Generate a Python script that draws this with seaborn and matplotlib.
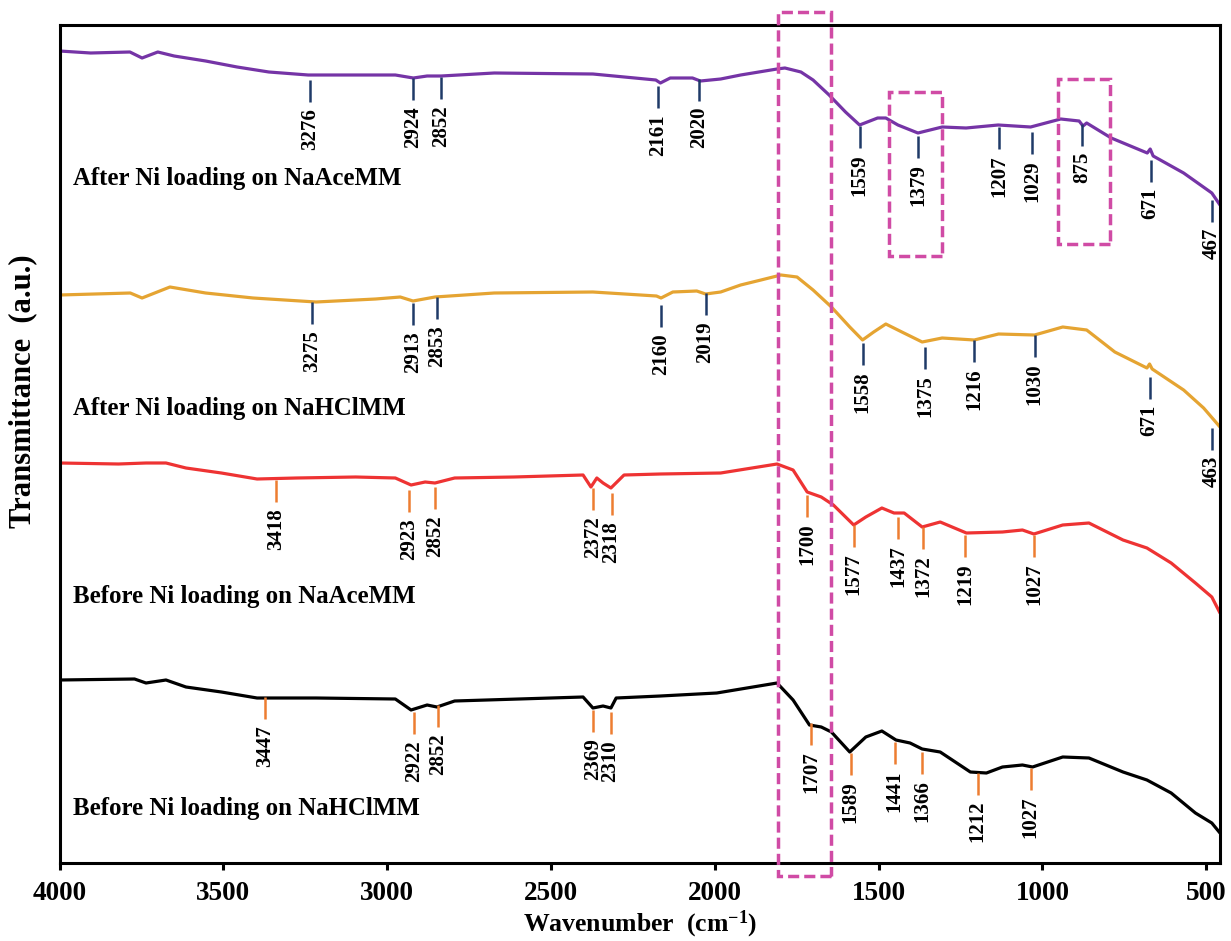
"""
FTIR spectra of NaAceMM / NaHClMM before and after Ni loading.
Stacked transmittance traces with hand-placed peak markers.
"""

import matplotlib
matplotlib.use("Agg")
import matplotlib.pyplot as plt
from matplotlib.patches import Rectangle
import seaborn as sns
import pandas as pd

# Spectra (wavenumber in cm-1, transmittance in a.u., already stacked)
ace_after_wn = [4000, 3905, 3785, 3748, 3700, 3650, 3554, 3458, 3361, 3241, 2975, 2920, 2878, 2835,
                2673, 2372, 2180, 2166, 2136, 2068, 2044, 1982, 1921, 1810, 1786, 1737, 1700, 1651,
                1601, 1558, 1503, 1478, 1441, 1380, 1306, 1233, 1135, 1036, 944, 888, 876, 865, 790,
                680, 671, 662, 569, 483, 458]
ace_after_t = [812, 810, 811, 805, 811, 807, 802, 796, 791, 788, 788, 785, 787, 787,
               790, 789, 783, 780, 785, 785, 782, 784, 788, 794, 795, 791, 783, 768,
               751, 738, 745, 745, 738, 730, 736, 735, 738, 736, 744, 742, 737, 740, 725,
               710, 714, 707, 690, 670, 658]

hcl_after_wn = [4000, 3784, 3748, 3663, 3554, 3409, 3217, 3035, 2960, 2921, 2854, 2673, 2372, 2178,
                2164, 2128, 2055, 2028, 1982, 1921, 1859, 1798, 1749, 1700, 1644, 1588, 1549, 1515,
                1478, 1429, 1367, 1306, 1208, 1134, 1024, 938, 865, 779, 681, 673, 665, 569, 508, 458]
hcl_after_t = [568, 570, 565, 576, 570, 565, 561, 564, 566, 562, 566, 570, 571, 567,
               565, 571, 572, 569, 571, 578, 583, 588, 586, 573, 556, 536, 523, 531,
               539, 531, 521, 525, 523, 529, 528, 536, 533, 511, 495, 499, 494, 473, 455, 436]

ace_before_wn = [4000, 3820, 3736, 3675, 3614, 3506, 3397, 3277, 3096, 2975, 2927, 2884, 2854, 2794,
                 2613, 2402, 2378, 2360, 2341, 2317, 2277, 2166, 1982, 1810, 1761, 1718, 1675, 1638,
                 1576, 1539, 1490, 1453, 1422, 1367, 1312, 1232, 1122, 1061, 1026, 938, 858, 754,
                 681, 607, 533, 483, 458]
ace_before_t = [400, 399, 400, 400, 395, 390, 384, 385, 386, 385, 378, 381, 380, 385,
                386, 388, 376, 385, 380, 375, 388, 389, 390, 399, 393, 371, 366, 358,
                338, 346, 355, 350, 350, 336, 341, 330, 331, 333, 329, 338, 340, 323,
                315, 300, 280, 266, 250]

hcl_before_wn = [4000, 3771, 3736, 3675, 3614, 3506, 3397, 3217, 2975, 2927, 2878, 2848, 2794, 2402,
                 2372, 2341, 2317, 2301, 2166, 1994, 1810, 1761, 1711, 1675, 1644, 1588, 1539, 1490,
                 1447, 1404, 1367, 1312, 1220, 1171, 1122, 1061, 1030, 938, 858, 754, 681, 607,
                 533, 483, 458]
hcl_before_t = [183, 184, 180, 183, 176, 171, 165, 165, 164, 153, 158, 156, 162, 166,
                155, 157, 155, 165, 167, 170, 180, 163, 138, 136, 131, 111, 126, 132,
                123, 120, 114, 111, 91, 90, 96, 98, 96, 106, 105, 91, 83, 70,
                50, 40, 30]

# Peak labels, where the marker sits (cm-1) and the marker top (a.u.)
ace_after_peaks = ["3276", "2924", "2852", "2161", "2020", "1559", "1379", "1207", "1029", "875", "671", "467"]
ace_after_pos = [3234, 2921, 2836, 2172, 2049, 1558, 1380, 1131, 1032, 879, 670, 483]
ace_after_top = [783, 785, 786, 777, 784, 737, 727, 736, 731, 739, 703, 663]

hcl_after_peaks = ["3275", "2913", "2853", "2160", "2019", "1558", "1375", "1216", "1030", "671", "463"]
hcl_after_pos = [3229, 2921, 2848, 2164, 2028, 1549, 1358, 1208, 1024, 673, 483]
hcl_after_top = [561, 560, 566, 558, 570, 520, 516, 523, 528, 486, 435]

ace_before_peaks = ["3418", "2923", "2852", "2372", "2318", "1700", "1577", "1437", "1372", "1219", "1027"]
ace_before_pos = [3339, 2933, 2854, 2372, 2315, 1718, 1576, 1440, 1364, 1235, 1026]
ace_before_top = [383, 373, 376, 375, 370, 368, 338, 346, 336, 328, 328]

hcl_before_peaks = ["3447", "2922", "2852", "2369", "2310", "1707", "1589", "1441", "1366", "1212", "1027"]
hcl_before_pos = [3373, 2917, 2845, 2372, 2318, 1705, 1585, 1451, 1367, 1198, 1036]
hcl_before_top = [166, 151, 158, 153, 151, 140, 110, 121, 111, 90, 95]

sample_names = ["After Ni loading on NaAceMM", "After Ni loading on NaHClMM",
                "Before Ni loading on NaAceMM", "Before Ni loading on NaHClMM"]
name_y = [685, 454, 267, 54]

# highlighted regions: (wn low, wn high, t low, t high)
boxes = [(1644, 1806, -13, 851), (1308, 1468, 607, 771), (794, 953, 619, 784)]

sns.set_theme(style="white")
plt.rcParams["font.family"] = ["Liberation Serif", "DejaVu Serif"]
plt.rcParams["font.weight"] = "bold"
plt.rcParams["text.color"] = "black"
plt.rcParams["xtick.color"] = "black"
plt.rcParams["mathtext.fontset"] = "custom"
plt.rcParams["mathtext.rm"] = "Liberation Serif:bold"
plt.rcParams["mathtext.bf"] = "Liberation Serif:bold"
plt.rcParams["mathtext.it"] = "Liberation Serif:bold:italic"

series = [
    (ace_after_wn, ace_after_t, "#7534A6", ace_after_peaks, ace_after_pos, ace_after_top, "#1F3A68"),
    (hcl_after_wn, hcl_after_t, "#E5A432", hcl_after_peaks, hcl_after_pos, hcl_after_top, "#1F3A68"),
    (ace_before_wn, ace_before_t, "#EE3333", ace_before_peaks, ace_before_pos, ace_before_top, "#ED7D31"),
    (hcl_before_wn, hcl_before_t, "#000000", hcl_before_peaks, hcl_before_pos, hcl_before_top, "#ED7D31"),
]

fig = plt.figure(figsize=(12.31, 9.41), dpi=100)
ax = fig.add_axes([59.5 / 1231, 1 - 863 / 941, (1220 - 59.5) / 1231, (863 - 25) / 941])

tick_len = 22
gap = 6
for (wn, t, color, peaks, pos, top, mcolor), name, ny in zip(series, sample_names, name_y):
    df = pd.DataFrame({"wn": wn, "t": t})
    sns.lineplot(data=df, x="wn", y="t", color=color, linewidth=2.3,
                 estimator=None, sort=False, ax=ax)
    for lab, x, y in zip(peaks, pos, top):
        ax.plot([x, x], [y, y - tick_len], color=mcolor, lw=1.8, solid_capstyle="butt")
        ax.text(x, y - tick_len - gap, lab, rotation=90, ha="center", va="top",
                fontsize=15, fontweight="bold", color="black")
    ax.text(3959, ny, name, ha="left", va="center", fontsize=17.9, fontweight="bold",
            color="black")

for lo, hi, b, t in boxes:
    ax.add_patch(Rectangle((lo, b), hi - lo, t - b, fill=False, edgecolor="#D04BA5",
                           linewidth=2.5, linestyle=(0, (3.2, 1.45)), clip_on=False, zorder=5))

ax.set_xlim(4000, 458)
ax.set_ylim(0, 838)
ax.set_xticks([4000, 3500, 3000, 2500, 2000, 1500, 1000, 500])
ax.set_yticks([])
ax.set_xlabel("")
ax.set_ylabel("")
ax.tick_params(axis="x", bottom=True, direction="out", length=5, width=2.2,
               labelsize=19.5, pad=8, colors="black")
for lbl in ax.get_xticklabels():
    lbl.set_fontweight("bold")
for s in ax.spines.values():
    s.set_linewidth(2.2)
    s.set_color("black")

fig.text(640 / 1231, 1 - 924 / 941, "Wavenumber  (cm$^{-1}$)", ha="center", va="center",
         fontsize=18.5, fontweight="bold", color="black")
fig.text(23 / 1231, 1 - 391 / 941, "Transmittance  (a.u.)", rotation=90, ha="center",
         va="center", fontsize=22, fontweight="bold", color="black")

fig.savefig("out.png", dpi=100)
